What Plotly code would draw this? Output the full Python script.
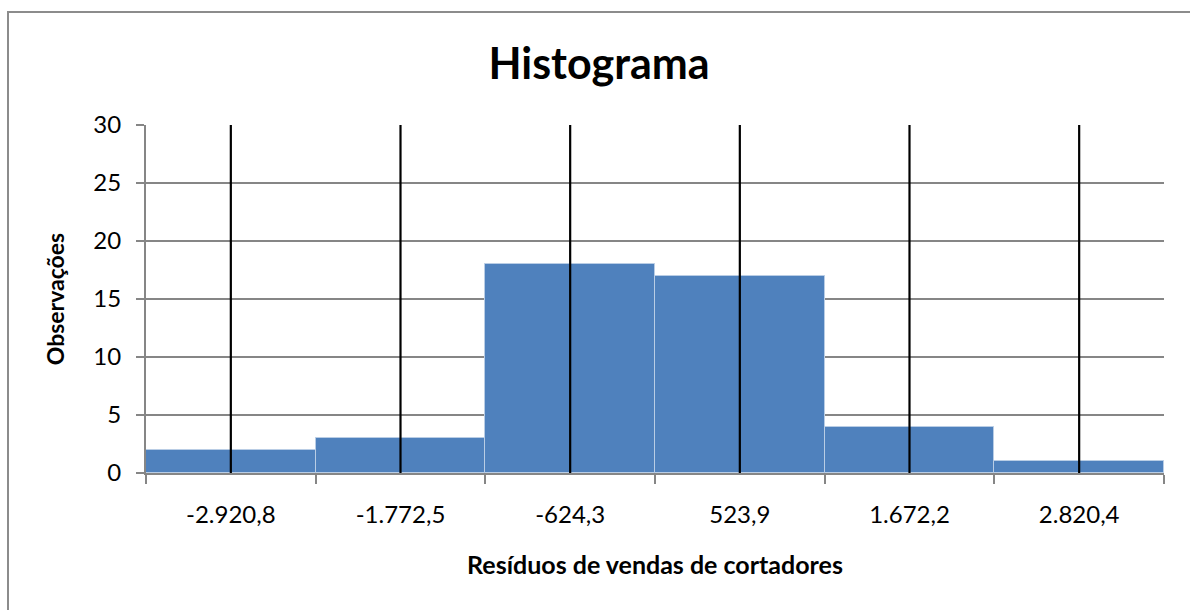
import plotly.graph_objects as go

# Histogram bins (bin centre labels) and counts
bin_labels = ["-2.920,8", "-1.772,5", "-624,3", "523,9", "1.672,2", "2.820,4"]
counts = [2, 3, 18, 17, 4, 1]
y_max = 30

positions = list(range(len(bin_labels)))

W, H = 1190, 610
L, R, T, B = 146, 26, 125, 137
pw, ph = W - L - R, H - T - B

font = "Lato, 'Noto Sans', sans-serif"

fig = go.Figure()
fig.add_trace(go.Bar(
    x=positions,
    y=counts,
    width=1,
    marker=dict(color="#4F81BD", line=dict(color="#B9CDE5", width=1)),
    hoverinfo="y",
))

# Black vertical gridlines at every bin centre, drawn over the bars
gx, gy = [], []
for p in positions:
    gx += [p, p, None]
    gy += [0, y_max, None]
fig.add_trace(go.Scatter(
    x=gx, y=gy, mode="lines",
    line=dict(color="black", width=2.2),
    hoverinfo="skip",
))

fig.update_layout(
    width=W, height=H,
    margin=dict(l=L, r=R, t=T, b=B),
    paper_bgcolor="white",
    plot_bgcolor="white",
    showlegend=False,
    bargap=0,
    title=dict(text="<b>Histograma</b>", x=599 / W, xref="container", xanchor="center",
               y=1 - 64 / H, yref="container", yanchor="middle",
               font=dict(family=font, size=43, color="black")),
    font=dict(family=font, color="black"),
)

fig.update_xaxes(
    range=[-0.5, len(bin_labels) - 0.5],
    tickmode="array", tickvals=positions, ticktext=bin_labels,
    ticks="", showgrid=False,
    showline=True, linecolor="#868686", linewidth=2,
    tickfont=dict(size=24, family=font, color="black"),
    ticklabelstandoff=19,
    minor=dict(tickmode="array",
               tickvals=[p - 0.5 for p in positions] + [positions[-1] + 0.5],
               ticks="outside", ticklen=9, tickcolor="#868686", tickwidth=2,
               showgrid=False),
    title=dict(text="<b>Resíduos de vendas de cortadores</b>",
               font=dict(size=25, family=font, color="black"), standoff=30),
    fixedrange=True,
)

fig.update_yaxes(
    range=[0, y_max], dtick=5, tick0=0,
    ticks="outside", ticklen=8, tickcolor="#868686", tickwidth=2,
    showgrid=True, gridcolor="#868686", gridwidth=1.5,
    showline=True, linecolor="#868686", linewidth=2,
    zeroline=False,
    tickfont=dict(size=24, family=font, color="black"),
    ticklabelstandoff=10,
    title=dict(text="<b>Observações</b>",
               font=dict(size=23, family=font, color="black"), standoff=22),
    fixedrange=True,
)

# Outer chart border
fig.add_shape(
    type="rect", xref="paper", yref="paper",
    x0=(8 - L) / pw, x1=(W + 4 - L) / pw,
    y0=(T + ph - (H + 4)) / ph, y1=(T + ph - 12) / ph,
    line=dict(color="#8C8C8C", width=2), fillcolor="rgba(0,0,0,0)",
    layer="below",
)

fig.write_html("out.html")
